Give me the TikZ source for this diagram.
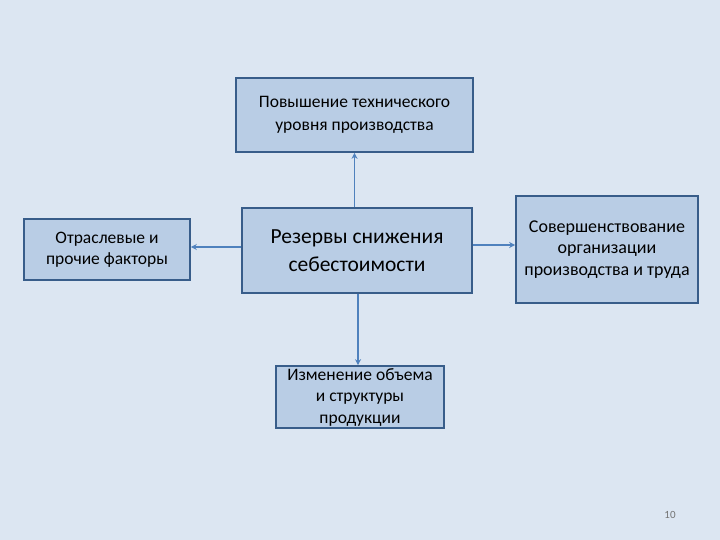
\documentclass[tikz,border=0pt]{standalone}
\usepackage{fontspec}
\setmainfont{Carlito}
\usetikzlibrary{arrows.meta}
\definecolor{bg}{HTML}{DCE6F2}
\definecolor{boxfill}{HTML}{B9CDE5}
\definecolor{boxline}{HTML}{385D8A}
\definecolor{arr}{HTML}{4F81BD}
\begin{document}
\begin{tikzpicture}[x=1pt,y=-1pt,
  box/.style={draw=boxline,fill=boxfill,line width=1.6pt,align=center,inner sep=0pt,text=black},
  conn/.style={draw=arr,line width=1.8pt,-{Stealth[length=6pt,width=6pt]}}]
\fill[bg] (0,0) rectangle (720,540);
\useasboundingbox (0,0) rectangle (720,540);
\node[box,minimum width=237pt,minimum height=74pt,font=\fontsize{17.5}{23}\selectfont] (top) at (354.5,115) {Повышение технического\\уровня производства};
\node[box,minimum width=166pt,minimum height=61pt,font=\fontsize{17.5}{21}\selectfont] (left) at (107,249.5) {Отраслевые и\\прочие факторы};
\node[box,minimum width=230pt,minimum height=85pt,font=\fontsize{21.5}{28}\selectfont] (mid) at (357,250.5) {Резервы снижения\\себестоимости};
\node[box,minimum width=182pt,minimum height=107pt,font=\fontsize{18}{21.5}\selectfont] (right) at (607,249.5) {Совершенствование\\организации\\производства и труда};
\node[box,minimum width=168pt,minimum height=62pt,font=\fontsize{17.5}{21.5}\selectfont] (bot) at (360,397) {Изменение объема\\и структуры\\продукции};
\node[text=black!55,font=\fontsize{11}{13}\selectfont] (num) at (670,515) {10};
\draw[conn] (mid.north -| top.south) -- (top.south);
\draw[conn] (mid.south -| 358,0) -- (bot.north -| 358,0);
\draw[conn] (mid.west |- 0,247) -- (left.east |- 0,247);
\draw[conn] (mid.east |- 0,245) -- (right.west |- 0,245);
\end{tikzpicture}
\end{document}
